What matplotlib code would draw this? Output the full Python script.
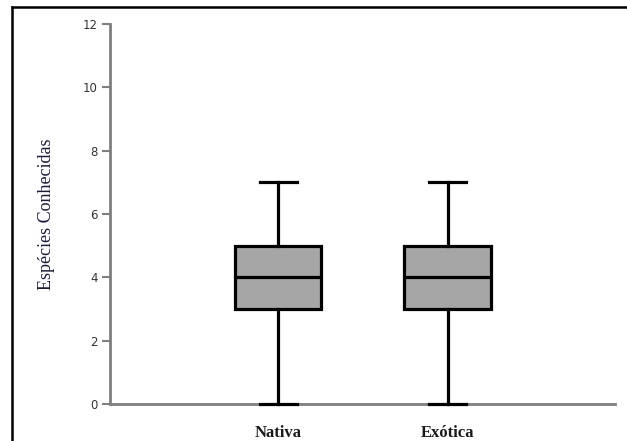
import matplotlib
matplotlib.use("Agg")
import matplotlib.pyplot as plt
from matplotlib.lines import Line2D

categories = ["Nativa", "Exótica"]
whisker_low = [0, 0]
q1 = [3, 3]
median = [4, 4]
q3 = [5, 5]
whisker_high = [7, 7]
yticks = [0, 2, 4, 6, 8, 10, 12]

W, H = 627, 441
fig = plt.figure(figsize=(W / 100, H / 100), dpi=100)
ax = fig.add_axes([110 / W, 1 - 404 / H, 505 / W, 380 / H])

stats = []
for i, c in enumerate(categories):
    stats.append(dict(label=c, whislo=whisker_low[i], q1=q1[i], med=median[i],
                      q3=q3[i], whishi=whisker_high[i], fliers=[]))

bp = ax.bxp(stats, positions=[1, 2], widths=0.51, capwidths=0.22, patch_artist=True,
            showfliers=False,
            boxprops=dict(facecolor="#a6a6a6", edgecolor="black", linewidth=2.3),
            medianprops=dict(color="black", linewidth=2.3),
            whiskerprops=dict(color="black", linewidth=2.3),
            capprops=dict(color="black", linewidth=2.3))
for key in ["caps", "whiskers"]:
    for art in bp[key]:
        art.set_clip_on(False)
        art.set_zorder(5)

ax.set_xlim(0.005, 2.99)
ax.set_ylim(0, 12)
ax.set_yticks(yticks)
ax.set_yticklabels([str(t) for t in yticks], fontsize=8.5, color="#333333",
                   family="DejaVu Sans")
ax.set_xticks([1, 2])
ax.set_xticklabels(categories, fontsize=12, fontweight="bold",
                   family="Liberation Serif", color="#1a1a1a")
ax.tick_params(axis="x", length=0, pad=15)
ax.tick_params(axis="y", length=6, width=1.5, color="#7f7f7f", direction="out", pad=3)

for s in ["top", "right"]:
    ax.spines[s].set_visible(False)
for s in ["left", "bottom"]:
    ax.spines[s].set_color("#7f7f7f")
    ax.spines[s].set_linewidth(2)
ax.spines["bottom"].set_zorder(0)

ax.set_ylabel("Espécies Conhecidas", fontsize=13, family="Liberation Serif",
              color="#1a1a40", labelpad=20)

# outer frame (left and top edges)
fig.add_artist(Line2D([12 / W, 12 / W], [0, 1 - 7 / H], color="black", linewidth=1.8,
                      transform=fig.transFigure))
fig.add_artist(Line2D([12 / W, 1], [1 - 7 / H, 1 - 7 / H], color="black", linewidth=1.8,
                      transform=fig.transFigure))

fig.savefig("out.png", dpi=100)
